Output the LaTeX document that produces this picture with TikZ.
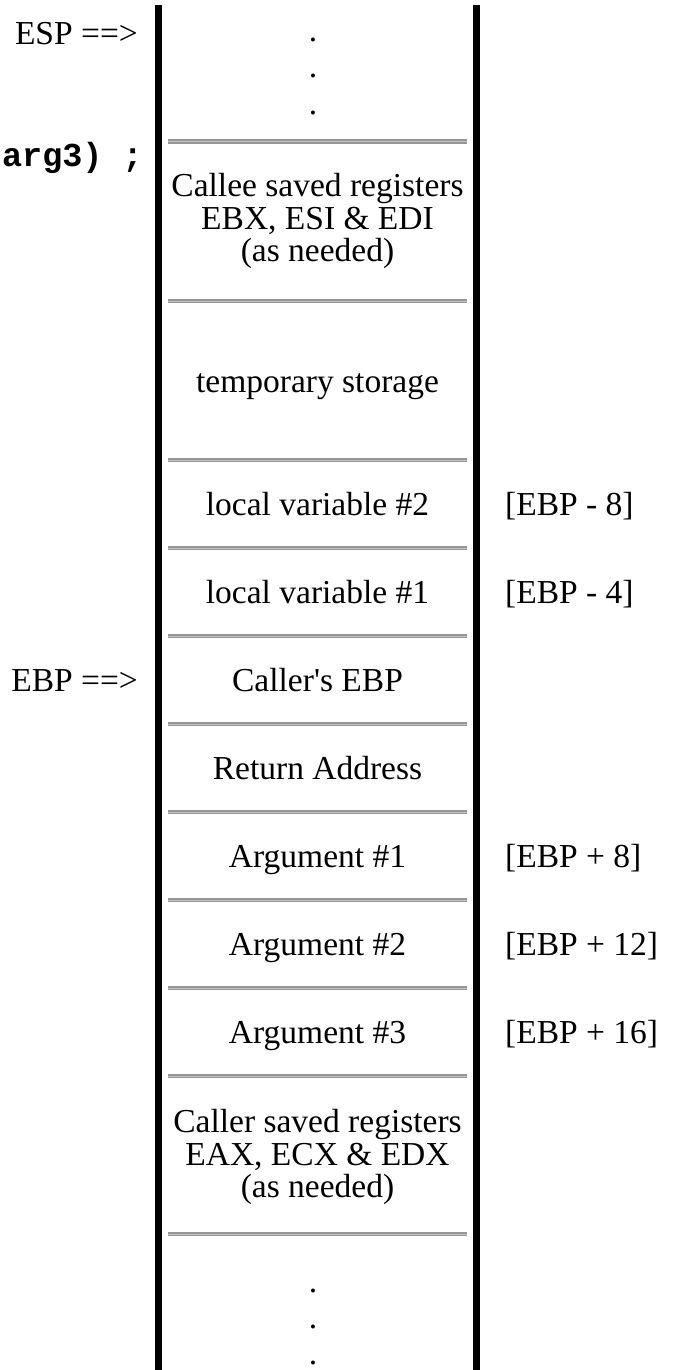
\documentclass[tikz,border=0pt]{standalone}
\usepackage{fontspec}
\setmainfont{Liberation Serif}[Ligatures=TeXOff]
\newfontfamily\codefont{Liberation Mono}
\definecolor{sepdark}{RGB}{150,150,150}
\definecolor{seplight}{RGB}{195,195,195}
\tikzset{
  txt/.style={font=\fontsize{33.5}{32.5}\selectfont, inner sep=0pt, align=center},
  lbl/.style={txt, anchor=base west},
  ptr/.style={txt, anchor=base east},
  cell/.style={txt, anchor=base},
  dotnode/.style={txt, anchor=base},
  bar/.style={fill=black},
}
\newcommand{\sepline}[1]{%
  \fill[sepdark] (168,#1-2) rectangle (467,#1+2);
  \fill[seplight] (168,#1-0.5) rectangle (467,#1+0.5);
}
\begin{document}
\begin{tikzpicture}[x=1pt,y=-1pt]
\useasboundingbox (0,0) rectangle (675,1370);
\fill[white] (0,0) rectangle (675,1370);
% stack walls
\fill[bar] (155,5) rectangle (162,1370);
\fill[bar] (473,5) rectangle (480,1370);
% separators
\sepline{141.5}
\sepline{301}
\sepline{460}
\sepline{548}
\sepline{636}
\sepline{724}
\sepline{812}
\sepline{900}
\sepline{988}
\sepline{1076}
\sepline{1234}
% top dots
\node[dotnode] (d1) at (313,42) {.};
\node[dotnode] (d2) at (313,78) {.};
\node[dotnode] (d3) at (313,114) {.};
% cells
\node[txt] (callee) at (317.5,221) {Callee saved registers\\EBX, ESI \& EDI\\(as needed)};
\node[cell] (temp) at (317.5,392) {temporary storage};
\node[cell] (lv2) at (317.5,515) {local variable \#2};
\node[cell] (lv1) at (317.5,603) {local variable \#1};
\node[cell] (cebp) at (317.5,691) {Caller's EBP};
\node[cell] (ret) at (317.5,779) {Return Address};
\node[cell] (a1) at (317.5,867) {Argument \#1};
\node[cell] (a2) at (317.5,955) {Argument \#2};
\node[cell] (a3) at (317.5,1043) {Argument \#3};
\node[txt] (caller) at (317.5,1157) {Caller saved registers\\EAX, ECX \& EDX\\(as needed)};
% bottom dots
\node[dotnode] (b1) at (313,1292) {.};
\node[dotnode] (b2) at (313,1328) {.};
\node[dotnode] (b3) at (313,1364) {.};
% pointers
\node[ptr] (esp) at (138,45) {ESP ==>};
\node[ptr] (arg) at (143,166) {\codefont\bfseries arg3) ;};
\node[ptr] (ebp) at (138,691) {EBP ==>};
% offsets
\node[lbl] (o1) at (505,515) {[EBP - 8]};
\node[lbl] (o2) at (505,603) {[EBP - 4]};
\node[lbl] (o3) at (505,867) {[EBP + 8]};
\node[lbl] (o4) at (505,955) {[EBP + 12]};
\node[lbl] (o5) at (505,1043) {[EBP + 16]};
\end{tikzpicture}
\end{document}
